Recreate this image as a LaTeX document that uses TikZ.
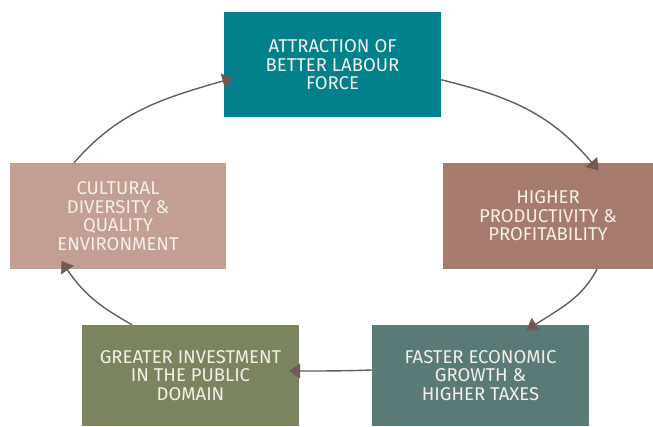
\documentclass[tikz,border=0pt]{standalone}
\usepackage{fontspec}
\setmainfont{Fira Sans}
\usepackage{xcolor}
\usepackage{tikz}
\usetikzlibrary{
  calc, arrows.meta, positioning
}
\definecolor{cTeal}{HTML}{00808B}
\definecolor{cRose}{HTML}{A67B6E}
\definecolor{cSlate}{HTML}{5A7A78}
\definecolor{cOlive}{HTML}{7A845F}
\definecolor{cPink}{HTML}{C29E93}
\definecolor{cArrow}{HTML}{6E5A52}
\definecolor{cText}{HTML}{F4F0E8}
\tikzset{
  box/.style={rectangle, inner sep=0pt, align=center, text=cText,
    minimum width=217pt, minimum height=105pt,
    font=\fontsize{18.5}{18.5}\selectfont},
  loop/.style={line width=1.4pt, color=cArrow,
    -{Triangle[length=11pt,width=15pt]}, shorten >=-10pt}
}

\begin{document}
\begin{tikzpicture}[x=1pt,y=1pt]
        \useasboundingbox (0,0) rectangle (653,426);
        \coordinate (pA) at (332.5,361.25);
        \coordinate (pP) at (548,210);
        \coordinate (pG) at (480.5,50.5);
        \coordinate (pI) at (190.5,50.5);
        \coordinate (pC) at (118,210);
        \node[box, fill=cTeal] (A) at (pA) {ATTRACTION OF\\BETTER LABOUR\\FORCE};
        \node[box, fill=cRose, minimum width=210pt, minimum height=106pt] (P) at (pP) {HIGHER\\PRODUCTIVITY \&\\PROFITABILITY};
        \node[box, fill=cSlate, minimum height=101pt] (G) at (pG) {FASTER ECONOMIC\\GROWTH \&\\HIGHER TAXES};
        \node[box, fill=cOlive, minimum height=101pt] (I) at (pI) {GREATER INVESTMENT\\IN THE PUBLIC\\DOMAIN};
        \node[box, fill=cPink, minimum width=216pt, minimum height=106pt] (C) at (pC) {CULTURAL\\DIVERSITY \&\\QUALITY\\ENVIRONMENT};
        \draw[loop] ([yshift=-15pt]A.east) to[out=-14, in=130] ([xshift=44pt]P.north);
        \draw[loop] ([xshift=49pt]P.south) to[out=-118, in=33] ([xshift=54.5pt]G.north);
        \draw[loop] ([yshift=5.5pt]G.west) to[out=182, in=0] ([yshift=4.5pt]I.east);
        \draw[loop] ([xshift=-58.5pt]I.north) to[out=150, in=-56] ([xshift=-51pt]C.south);
        \draw[loop] ([xshift=-44pt]C.north) to[out=49, in=196] ([yshift=-16pt]A.west);
    \end{tikzpicture}
\end{document}
